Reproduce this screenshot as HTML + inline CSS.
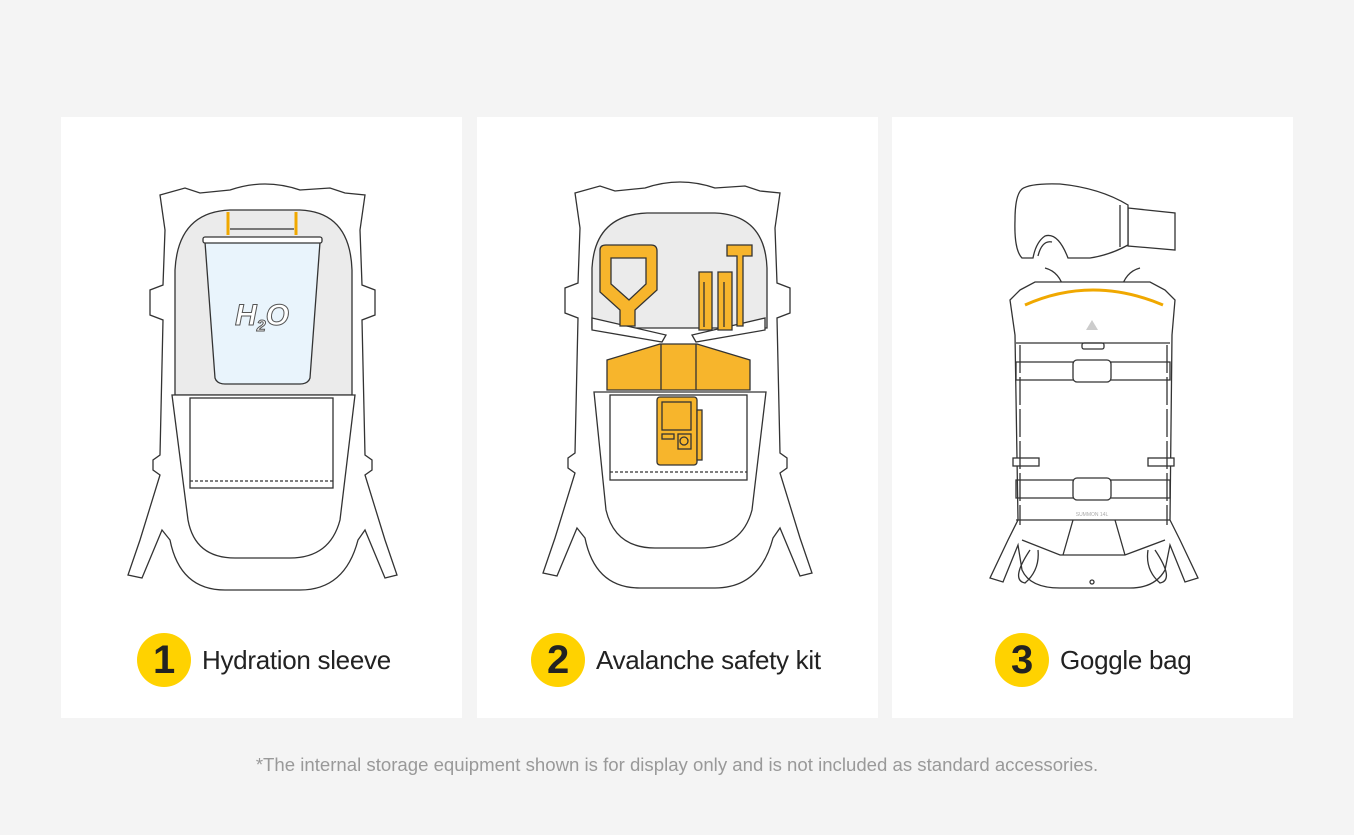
<!DOCTYPE html>
<html><head><meta charset="utf-8"><style>
body{margin:0;background:#f4f4f4;width:1354px;height:835px;overflow:hidden;font-family:"Liberation Sans",sans-serif}
.p{position:absolute;top:117px;width:401px;height:601px;background:#fff}
.lab{position:absolute;top:633px;height:54px;display:flex;align-items:center;font-size:26px;color:#222;letter-spacing:-0.3px}
.c{width:54px;height:54px;border-radius:50%;background:#ffd200;display:flex;align-items:center;justify-content:center;font-size:40px;font-weight:bold;color:#222;margin-right:11px}
.foot{position:absolute;top:754px;left:0;width:1354px;text-align:center;font-size:18.6px;color:#999;letter-spacing:0}
svg{position:absolute;left:0;top:0}
</style></head><body>
<div class="p" style="left:61px"></div>
<div class="p" style="left:477px"></div>
<div class="p" style="left:892px"></div>
<svg width="1354" height="835" viewBox="0 0 1354 835" fill="none" stroke="#333" stroke-width="1.3">
<defs>
<path id="out" d="M160,195 L185,188 L200,193 L230,190 Q265,178 300,190 L330,188 L345,193 L365,195 L360,230 L362,285 L375,290 L375,315 L362,320 L365,455 L372,460 L372,470 L365,475 L385,540 L397,575 L385,578 L365,530 L358,540 Q345,590 300,590 L225,590 Q180,590 170,540 L162,530 L142,578 L128,575 L140,540 L160,475 L153,470 L153,460 L160,455 L163,320 L150,315 L150,290 L163,285 L165,230 Z"/>
<marker id="ah" markerWidth="6" markerHeight="6" refX="5" refY="3" orient="auto"><path d="M0,0 L6,3 L0,6 Z" fill="#333" stroke="none"/></marker>
</defs>
<use href="#out" fill="#fff"/>
<path d="M175,395 L175,270 Q178,212 230,210 L300,210 Q350,212 352,270 L352,395 Z" fill="#ebebeb"/>
<path d="M172,395 L355,395 L340,520 Q330,558 290,558 L235,558 Q195,558 188,520 Z" fill="#fff"/>
<rect x="190" y="398" width="143" height="90" fill="#fff"/>
<line x1="190" y1="481" x2="333" y2="481" stroke-dasharray="3,2"/>
<path d="M205,242 L320,242 L310,378 Q308,384 300,384 L225,384 Q217,384 215,378 Z" fill="#e9f4fc"/>
<rect x="203" y="237" width="119" height="6" rx="2" fill="#fff"/>
<line x1="228" y1="212" x2="228" y2="235" stroke="#f0a800" stroke-width="3"/>
<line x1="296" y1="212" x2="296" y2="235" stroke="#f0a800" stroke-width="3"/>
<line x1="230" y1="229" x2="294" y2="229"/>
<text x="262" y="325" font-family="Liberation Sans" font-size="30" font-style="italic" font-weight="bold" fill="#fff" stroke="#555" stroke-width="1" text-anchor="middle">H<tspan font-size="16" dy="6">2</tspan><tspan dy="-6">O</tspan></text>
<g transform="translate(415,-2)">
<use href="#out" fill="#fff"/>
<path d="M177,330 L177,270 Q180,217 232,215 L300,215 Q350,217 352,270 L352,330 Z" fill="#ebebeb"/>
</g>
<path d="M592,318 L666,335 L662,342 L592,330 Z" fill="#fff"/>
<path d="M765,318 L692,335 L696,342 L765,330 Z" fill="#fff"/>
<path d="M600,250 Q600,245 606,245 L651,245 Q657,245 657,251 L657,290 L635,310 L635,326 L620,326 L620,310 L600,292 Z M611,258 L611,284 L629,300 L646,284 L646,258 Z" fill="#f7b52c" fill-rule="evenodd"/>
<path d="M699,272 h13 v58 h-13 Z M718,272 h14 v58 h-14 Z" fill="#f7b52c"/>
<path d="M704,282 v45 M724,282 v45" stroke="#333"/>
<path d="M727,245 h25 v11 h-9 v70 h-6 v-70 h-10 Z" fill="#f7b52c"/>
<path d="M607,360 L660,344 L697,344 L750,360 L750,390 L607,390 Z" fill="#f7b52c"/>
<path d="M661,344 v46 M696,344 v46"/>
<path d="M594,392 L766,392 L752,510 Q742,548 700,548 L655,548 Q615,548 606,510 Z" fill="#fff"/>
<rect x="610" y="395" width="137" height="85" fill="#fff"/>
<line x1="610" y1="472" x2="747" y2="472" stroke-dasharray="3,2"/>
<rect x="657" y="397" width="40" height="68" rx="3" fill="#f7b52c"/>
<rect x="662" y="402" width="29" height="28" fill="none"/>
<rect x="662" y="434" width="12" height="5"/>
<rect x="678" y="434" width="13" height="15"/><circle cx="684" cy="441" r="4"/>
<rect x="697" y="410" width="5" height="50" fill="#f7b52c"/>
<path d="M1128,208 L1175,213 L1175,250 L1128,246 Z" fill="#fff"/>
<path d="M1022,189 Q1030,183 1060,184 Q1100,188 1128,205 L1128,245 Q1110,255 1090,258 L1068,258 Q1058,232 1045,236 Q1036,242 1033,258 L1022,258 Q1014,250 1015,220 Q1015,195 1022,189 Z" fill="#fff"/>
<path d="M1120,205 V247 M1038,256 Q1042,240 1052,242"/>
<path d="M1045,268 Q1060,272 1064,290" marker-end="url(#ah)"/>
<path d="M1140,268 Q1125,272 1121,290" marker-end="url(#ah)"/>
<path d="M1020,290 L1035,282 L1150,282 L1165,290 L1175,300 L1172,335 L1170,520 L1180,540 L1198,578 L1185,582 L1170,545 L1165,570 Q1155,588 1130,588 L1060,588 Q1030,588 1022,570 L1018,545 L1003,582 L990,578 L1008,540 L1018,520 L1015,335 L1010,300 Z" fill="#fff"/>
<path d="M1025,305 Q1092,275 1163,305" stroke="#f0a800" stroke-width="3"/>
<path d="M1016,343 H1170 M1016,520 H1170"/>
<path d="M1016,362 H1170 V380 H1016 Z M1016,480 H1170 V498 H1016 Z"/>
<rect x="1073" y="360" width="38" height="22" rx="4" fill="#fff"/>
<rect x="1073" y="478" width="38" height="22" rx="4" fill="#fff"/>
<rect x="1013" y="458" width="26" height="8" fill="#fff"/><rect x="1148" y="458" width="26" height="8" fill="#fff"/>
<rect x="1082" y="343" width="22" height="6" rx="2"/>
<path d="M1020,345 V525 M1167,345 V525" stroke-dasharray="28,4"/>
<path d="M1022,540 L1060,555 L1125,555 L1165,540 M1073,520 L1063,555 M1115,520 L1125,555"/>
<path d="M1030,550 Q1010,580 1025,583 Q1040,570 1038,550 M1155,550 Q1175,580 1160,583 Q1145,570 1148,550"/>
<circle cx="1092" cy="582" r="2"/>
<path d="M1086,330 L1092,320 L1098,330 Z" fill="#ccc" stroke="none"/>
<text x="1092" y="516" font-size="5" fill="#aaa" stroke="none" text-anchor="middle" font-family="Liberation Sans">SUMMON 14L</text>
</svg>
<div class="lab" style="left:137px"><div class="c">1</div>Hydration sleeve</div>
<div class="lab" style="left:531px"><div class="c">2</div>Avalanche safety kit</div>
<div class="lab" style="left:995px"><div class="c">3</div>Goggle bag</div>
<div class="foot">*The internal storage equipment shown is for display only and is not included as standard accessories.</div>
</body></html>
